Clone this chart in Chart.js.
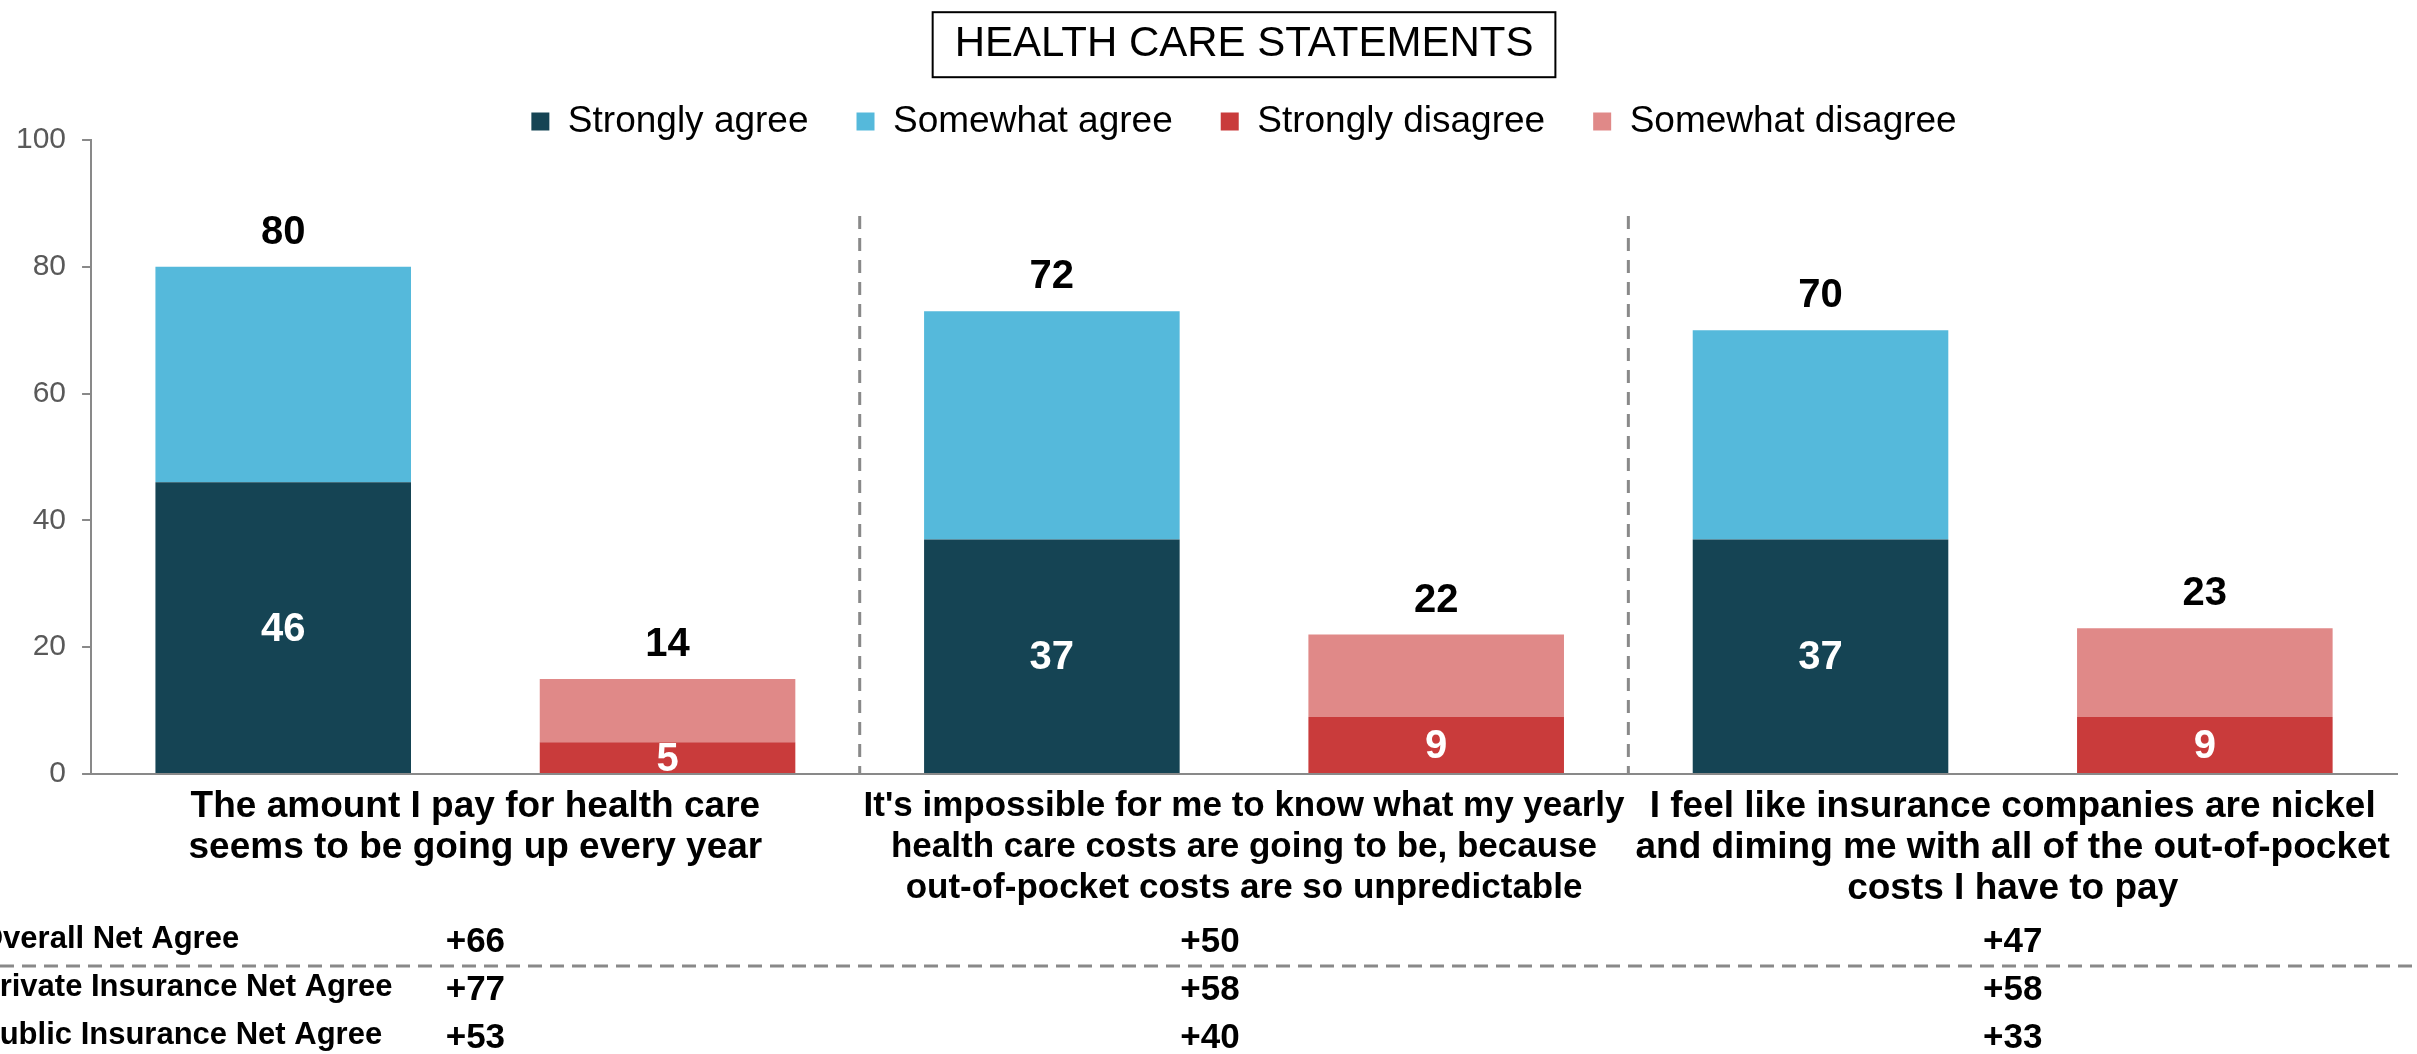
<!DOCTYPE html>
<html><head><meta charset="utf-8">
<script src="https://cdn.jsdelivr.net/npm/chart.js@4.4.1/dist/chart.umd.min.js"></script>
<style>html,body{margin:0;padding:0;background:#fff;overflow:hidden}#wrap{width:2417px;height:1054px;position:relative}</style>
</head><body><div id="wrap"><canvas id="c"></canvas></div>
<script>
const categories = ['Agree 1', 'Disagree 1', 'Agree 2', 'Disagree 2', 'Agree 3', 'Disagree 3'];
const statements = [
  ['The amount I pay for health care', 'seems to be going up every year'],
  ["It's impossible for me to know what my yearly", 'health care costs are going to be, because', 'out-of-pocket costs are so unpredictable'],
  ['I feel like insurance companies are nickel', 'and diming me with all of the out-of-pocket', 'costs I have to pay']
];
const stronglyAgree    = [46, null, 37, null, 37, null];
const somewhatAgree    = [34, null, 36, null, 33, null];
const stronglyDisagree = [null, 5, null, 9, null, 9];
const somewhatDisagree = [null, 10, null, 13, null, 14];
const totalLabels      = [80, 14, 72, 22, 70, 23];
const yTicks = [0, 20, 40, 60, 80, 100];
const netRowLabels = ['Overall Net Agree', 'Private Insurance Net Agree', 'Public Insurance Net Agree'];
const overallNet = [66, 50, 47];
const privateNet = [77, 58, 58];
const publicNet  = [53, 40, 33];
const seriesNames = ['Strongly agree', 'Somewhat agree', 'Strongly disagree', 'Somewhat disagree'];

const FONT = '"Liberation Sans", Arial, Helvetica, sans-serif';
Chart.defaults.font.family = FONT;
const GRAY = '#898989';
const TITLE_PAD_TOP = 19;

const annotate = {
  id: 'annotate',
  afterLayout(chart) {
    chart.legend.top += 10;
    chart.legend.bottom += 10;
  },
  afterDatasetsDraw(chart) {
    const ctx = chart.ctx, xs = chart.scales.x, ys = chart.scales.y;
    ctx.save();
    ctx.textAlign = 'center';
    ctx.textBaseline = 'middle';
    ctx.font = 'bold 40px ' + FONT;
    [0, 2].forEach(di => {
      const meta = chart.getDatasetMeta(di);
      chart.data.datasets[di].data.forEach((v, i) => {
        if (v == null) return;
        const bar = meta.data[i];
        ctx.fillStyle = '#ffffff';
        ctx.fillText(String(v), bar.x, (bar.y + bar.base) / 2 + 2);
      });
    });
    ctx.fillStyle = '#000000';
    totalLabels.forEach((t, i) => {
      const di = (i % 2 === 0) ? 1 : 3;
      const bar = chart.getDatasetMeta(di).data[i];
      ctx.fillText(String(t), bar.x, bar.y - 34);
    });
    ctx.strokeStyle = GRAY;
    ctx.lineWidth = 3;
    ctx.setLineDash([13, 9]);
    [1, 3].forEach(k => {
      const xp = (xs.getPixelForValue(k) + xs.getPixelForValue(k + 1)) / 2;
      ctx.beginPath();
      ctx.moveTo(xp, ys.getPixelForValue(88));
      ctx.lineTo(xp, ys.getPixelForValue(0));
      ctx.stroke();
    });
    ctx.restore();
  },
  afterDraw(chart) {
    const ctx = chart.ctx, xs = chart.scales.x;
    ctx.save();
    const tb = chart.titleBlock;
    const tfont = chart.options.plugins.title.font;
    ctx.font = 'normal ' + tfont.size + 'px ' + FONT;
    const tw = ctx.measureText(chart.options.plugins.title.text).width;
    const cx = (tb.left + tb.right) / 2;
    const cy = tb.top + TITLE_PAD_TOP + tfont.size * 1.2 / 2;
    ctx.strokeStyle = '#000';
    ctx.lineWidth = 2;
    ctx.setLineDash([]);
    ctx.strokeRect(cx - tw / 2 - 22, cy - 32, tw + 44, 65);
    const H = chart.height;
    const rowsY = [H - 112, H - 64, H - 16];
    const rowVals = [overallNet, privateNet, publicNet];
    const colNudge = [0, -34, 0];
    ctx.textBaseline = 'middle';
    ctx.fillStyle = '#000';
    rowsY.forEach((ry, r) => {
      ctx.textAlign = 'left';
      ctx.font = 'bold 31px ' + FONT;
      ctx.fillText(netRowLabels[r], -21, ry - 3);
      ctx.textAlign = 'center';
      ctx.font = 'bold 35px ' + FONT;
      rowVals[r].forEach((v, g) => {
        const gx = (xs.getPixelForValue(2 * g) + xs.getPixelForValue(2 * g + 1)) / 2 + colNudge[g];
        ctx.fillText((v > 0 ? '+' : '') + v, gx, ry);
      });
    });
    ctx.strokeStyle = GRAY;
    ctx.lineWidth = 3;
    ctx.setLineDash([14, 8]);
    ctx.beginPath();
    ctx.moveTo(0, (rowsY[0] + rowsY[1]) / 2);
    ctx.lineTo(chart.width - 5, (rowsY[0] + rowsY[1]) / 2);
    ctx.stroke();
    ctx.restore();
  }
};

new Chart(document.getElementById('c'), {
  type: 'bar',
  data: {
    labels: categories,
    datasets: [
      { label: seriesNames[0], data: stronglyAgree, backgroundColor: '#154454', xAxisID: 'x' },
      { label: seriesNames[1], data: somewhatAgree, backgroundColor: '#55B9DB', xAxisID: 'x' },
      { label: seriesNames[2], data: stronglyDisagree, backgroundColor: '#C93B3B', xAxisID: 'x' },
      { label: seriesNames[3], data: somewhatDisagree, backgroundColor: '#E08988', xAxisID: 'x' }
    ]
  },
  options: {
    responsive: true,
    maintainAspectRatio: false,
    animation: false,
    devicePixelRatio: 1,
    datasets: { bar: { categoryPercentage: 1, barPercentage: 0.665, skipNull: false } },
    layout: { padding: { left: 0, right: 20, top: 0, bottom: 133 } },
    plugins: {
      tooltip: { enabled: false },
      title: {
        display: true, text: 'HEALTH CARE STATEMENTS', fullSize: false, color: '#000',
        font: { size: 42, weight: 'normal' }, padding: { top: TITLE_PAD_TOP, bottom: -24.4 }
      },
      legend: {
        display: true, fullSize: false,
        labels: { boxWidth: 18, boxHeight: 18, color: '#000', font: { size: 37 }, padding: 48 }
      }
    },
    scales: {
      x: {
        stacked: true,
        ticks: { display: false },
        grid: { display: false, drawTicks: false },
        border: { display: true, color: GRAY, width: 2 }
      },
      x2: {
        type: 'category', labels: statements, position: 'bottom',
        grid: { display: false, drawTicks: false }, border: { display: false },
        ticks: { autoSkip: false, maxRotation: 0, minRotation: 0, color: '#000', padding: 12,
          font: c => ({ size: c.index === 1 ? 35 : 37, weight: 'bold', lineHeight: '41px' }) }
      },
      y: {
        stacked: true, min: 0, max: 100,
        afterBuildTicks: s => { s.ticks = yTicks.map(v => ({ value: v })); },
        ticks: { color: '#595959', font: { size: 30 }, padding: 16 },
        grid: { drawOnChartArea: false, drawTicks: true, tickLength: 9, color: GRAY, lineWidth: 2 },
        border: { color: GRAY, width: 2 }
      }
    }
  },
  plugins: [annotate]
});
</script>
</body></html>
